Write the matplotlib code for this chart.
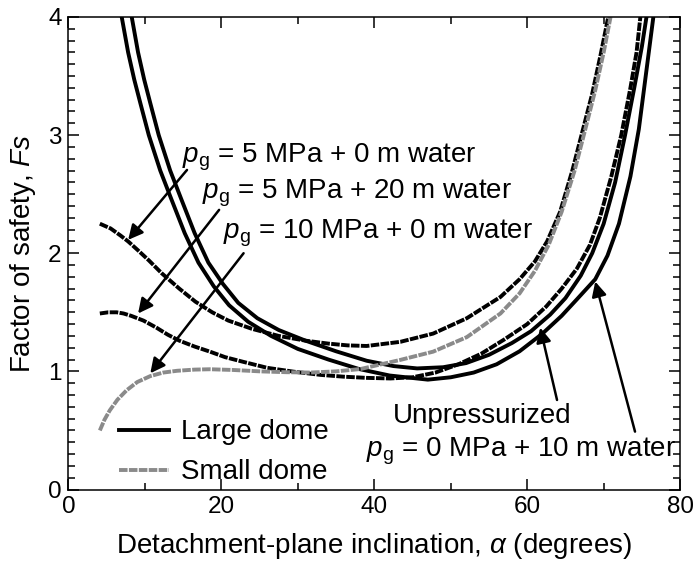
import matplotlib
matplotlib.use('Agg')

import matplotlib.pyplot as plt
from matplotlib.ticker import MultipleLocator

plt.rcParams['font.family'] = ['Liberation Sans', 'DejaVu Sans']
plt.rcParams['mathtext.fontset'] = 'custom'
plt.rcParams['mathtext.rm'] = 'Liberation Sans'
plt.rcParams['mathtext.it'] = 'Liberation Sans:italic'

# large dome, unpressurized
unp_x = [8.27, 9.1, 9.9, 10.7, 11.8, 13.3, 14.8, 16.5, 18.3, 20.2, 22.2, 24.7,
         27.5, 31.0, 35.0, 39.0, 42.5, 45.6, 49.0, 52.0, 55.0, 58.0, 60.5,
         63.0, 65.0, 67.0, 68.5, 70.0, 71.5, 72.8, 74.0, 75.0, 75.6]
unp_y = [4.0, 3.7, 3.47, 3.27, 3.0, 2.7, 2.45, 2.17, 1.92, 1.74, 1.58, 1.45,
         1.35, 1.26, 1.17, 1.09, 1.045, 1.025, 1.035, 1.07, 1.14, 1.24, 1.34,
         1.48, 1.62, 1.81, 2.0, 2.25, 2.6, 3.0, 3.4, 3.75, 4.0]

# large dome, pg = 0 MPa + 10 m water
w10_x = [6.96, 7.8, 8.6, 9.4, 10.5, 12.0, 13.5, 15.2, 17.0, 19.0, 21.0, 23.5,
         26.5, 30.0, 34.0, 38.0, 42.0, 47.0, 50.0, 53.0, 56.0, 59.0, 62.0,
         64.5, 66.5, 68.9, 70.5, 72.0, 73.5, 74.6, 75.5, 76.5]
w10_y = [4.0, 3.7, 3.47, 3.27, 3.0, 2.7, 2.45, 2.17, 1.92, 1.72, 1.56, 1.42,
         1.30, 1.19, 1.10, 1.02, 0.965, 0.93, 0.95, 0.99, 1.06, 1.17, 1.32,
         1.47, 1.61, 1.78, 1.98, 2.25, 2.65, 3.05, 3.5, 4.0]

# large dome, pg = 5 MPa + 0 m water
p5_x = [4.1, 5.5, 6.8, 7.8, 9.0, 10.5, 12.2, 14.5, 16.6, 18.8, 20.9, 24.0,
        27.5, 31.0, 34.0, 36.5, 39.0, 43.4, 47.7, 52.1, 56.5, 59.0, 61.0,
        62.6, 64.3, 65.9, 67.3, 68.5, 69.6, 70.6]
p5_y = [2.25, 2.21, 2.15, 2.10, 2.03, 1.94, 1.83, 1.70, 1.59, 1.50, 1.43, 1.36,
        1.30, 1.26, 1.235, 1.22, 1.215, 1.25, 1.32, 1.45, 1.63, 1.78, 1.93,
        2.10, 2.35, 2.70, 3.05, 3.35, 3.68, 4.0]

# large dome, pg = 5 MPa + 20 m water
p5w_x = [4.1, 5.2, 6.3, 7.2, 8.2, 9.8, 11.5, 13.0, 14.5, 16.5, 18.5, 20.5,
         22.9, 26.0, 29.4, 33.0, 36.0, 39.0, 42.1, 45.0, 48.0, 51.0, 54.0,
         57.0, 60.0, 62.5, 64.5, 66.5, 68.2, 69.5, 71.0, 72.3, 73.5, 74.3, 74.8]
p5w_y = [1.49, 1.50, 1.50, 1.49, 1.47, 1.43, 1.37, 1.31, 1.26, 1.21, 1.167, 1.12,
         1.08, 1.03, 0.998, 0.97, 0.955, 0.945, 0.94, 0.95, 0.99, 1.06, 1.15,
         1.27, 1.40, 1.55, 1.70, 1.87, 2.07, 2.30, 2.65, 3.0, 3.4, 3.7, 4.0]

# small dome, pg = 10 MPa + 0 m water
p10_x = [4.1, 4.7, 5.4, 6.4, 7.6, 9.0, 10.7, 12.4, 14.2, 16.5, 18.5, 21.5,
         25.1, 28.5, 31.6, 35.0, 38.2, 43.4, 47.7, 52.1, 56.5, 59.0, 61.0,
         62.8, 64.5, 66.2, 67.6, 68.9, 70.0, 70.9]
p10_y = [0.50, 0.59, 0.67, 0.76, 0.84, 0.91, 0.96, 0.99, 1.005, 1.015, 1.018, 1.012,
         1.0, 0.993, 0.99, 1.0, 1.02, 1.097, 1.167, 1.29, 1.49, 1.66, 1.85,
         2.07, 2.35, 2.70, 3.05, 3.38, 3.70, 4.0]

fig = plt.figure(figsize=(6.94, 5.65), dpi=100)
ax = fig.add_axes([0.0987, 0.1336, 0.8813, 0.8364])

lw = 2.8
grey = '#8a8a8a'
dash = (0, (2.2, 0.35))
ax.plot(unp_x, unp_y, color='k', lw=lw)
ax.plot(w10_x, w10_y, color='k', lw=lw)
ax.plot(p5_x, p5_y, color='k', lw=lw, ls=dash)
ax.plot(p5w_x, p5w_y, color='k', lw=lw, ls=dash)
ax.plot(p10_x, p10_y, color=grey, lw=lw, ls=dash)

# legend proxies
ax.plot([], [], color='k', lw=lw, label='Large dome')
ax.plot([], [], color=grey, lw=lw, ls=dash, label='Small dome')
handles, labels = ax.get_legend_handles_labels()
ax.legend(handles, labels, loc='lower left', bbox_to_anchor=(0.075, 0.0),
          frameon=False, fontsize=20, handlelength=1.8, handletextpad=0.45,
          labelspacing=0.5, borderaxespad=0, borderpad=0.15)

fs = 20
arrow = dict(arrowstyle='-|>', lw=1.8, color='k', mutation_scale=22,
             shrinkA=0, shrinkB=0)
pg = r'$p_\mathrm{g}$'
ax.text(14.8, 2.815, pg + ' = 5 MPa + 0 m water', fontsize=fs, va='center')
ax.text(17.5, 2.51, pg + ' = 5 MPa + 20 m water', fontsize=fs, va='center')
ax.text(20.2, 2.17, pg + ' = 10 MPa + 0 m water', fontsize=fs, va='center')
ax.text(42.4, 0.62, 'Unpressurized', fontsize=fs, va='center')
ax.text(38.9, 0.32, pg + ' = 0 MPa + 10 m water', fontsize=fs, va='center')

ax.annotate('', xy=(7.8, 2.113), xytext=(15.5, 2.705), arrowprops=arrow)
ax.annotate('', xy=(9.1, 1.49), xytext=(19.7, 2.367), arrowprops=arrow)
ax.annotate('', xy=(10.7, 0.984), xytext=(22.9, 2.0), arrowprops=arrow)
ax.annotate('', xy=(61.7, 1.37), xytext=(63.9, 0.758), arrowprops=arrow)
ax.annotate('', xy=(68.9, 1.76), xytext=(74.1, 0.49), arrowprops=arrow)

ax.set_xlim(0, 80)
ax.set_ylim(0, 4)
ax.xaxis.set_major_locator(MultipleLocator(20))
ax.xaxis.set_minor_locator(MultipleLocator(10))
ax.yaxis.set_major_locator(MultipleLocator(1))
ax.yaxis.set_minor_locator(MultipleLocator(0.1))
ax.tick_params(which='both', direction='in', top=True, right=True,
               labelsize=17.5, width=1.1)
ax.tick_params(which='major', length=8, pad=5)
ax.tick_params(which='minor', length=5)
for s in ax.spines.values():
    s.set_linewidth(1.1)

ax.set_xlabel(r'Detachment-plane inclination, $\alpha$ (degrees)', fontsize=20,
              labelpad=9)
ax.set_ylabel(r'Factor of safety, $F\mathit{s}$', fontsize=20, labelpad=7)

fig.savefig('out.png', dpi=100)
